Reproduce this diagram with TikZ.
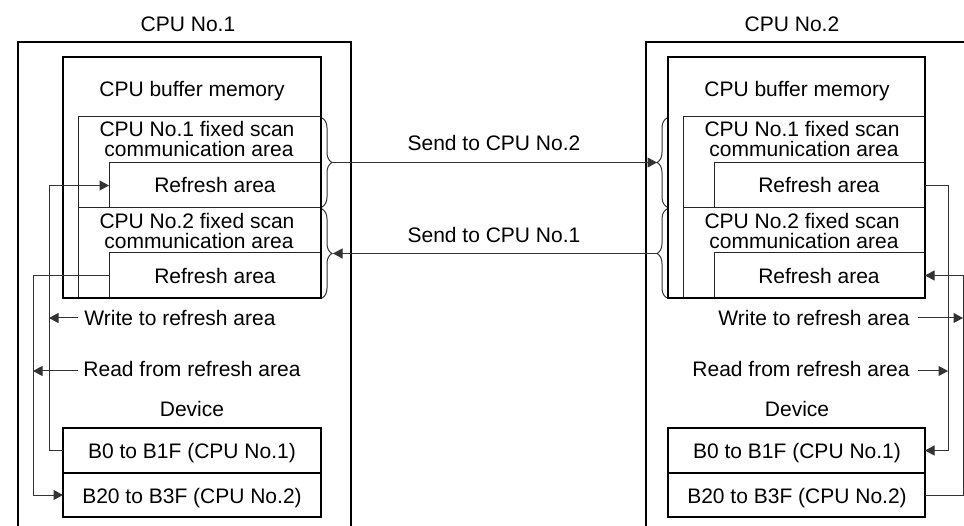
\documentclass[tikz,border=0pt]{standalone}
\usepackage{fontspec}
\setmainfont{Liberation Sans}
\usetikzlibrary{arrows.meta,decorations.pathreplacing}
\begin{document}
\begin{tikzpicture}[x=1pt,y=-1pt,
  box/.style={draw=black, line width=1.3pt, inner sep=0pt, outer sep=0pt, anchor=north west},
  sub/.style={draw=black!85, line width=1pt, inner sep=0pt, outer sep=0pt, anchor=north west},
  frame/.style={draw=black, line width=1.3pt},
  conn/.style={draw=black!80, line width=1pt},
  arr/.style={conn, -{Triangle[length=9.5pt,width=10pt]}},
  txt/.style={font=\fontsize{21}{20}\selectfont, inner sep=0pt, anchor=base},
  br/.style={draw=black!80, line width=1pt, decorate, decoration={brace, amplitude=10pt}}
]
\useasboundingbox (0,0) rectangle (964,526);

% ---------------- CPU No.1 ----------------
\draw[frame] (18,526) -- (18,42) -- (351,42) -- (351,526);
\node[txt] (titleA) at (188,32) {CPU No.1};
\node[txt] (bufAt) at (192,97) {CPU buffer memory};
\node[sub, minimum width=243pt, minimum height=91pt] (fixA1) at (78,117) {};
\node[txt] (fixA1a) at (197,137) {CPU No.1 fixed scan};
\node[txt] (fixA1b) at (199,157) {communication area};
\node[sub, minimum width=212pt, minimum height=45pt] (refA1) at (109,163) {};
\node[txt] (refA1t) at (215,193) {Refresh area};
\node[sub, minimum width=243pt, minimum height=90pt] (fixA2) at (78,208) {};
\node[txt] (fixA2a) at (197,229) {CPU No.2 fixed scan};
\node[txt] (fixA2b) at (199,249) {communication area};
\node[sub, minimum width=212pt, minimum height=45pt] (refA2) at (109,253) {};
\node[txt] (refA2t) at (215,284) {Refresh area};
\node[box, minimum width=258pt, minimum height=241pt] (bufA) at (63,57) {};

\node[txt] (wrA) at (180,326) {Write to refresh area};
\node[txt] (rdA) at (192,377) {Read from refresh area};
\node[txt] (devAt) at (192,417) {Device};
\node[box, minimum width=258pt, minimum height=45pt] (devA1) at (63,428) {};
\node[txt] (devA1t) at (192,458) {B0 to B1F (CPU No.1)};
\node[box, minimum width=258pt, minimum height=44pt] (devA2) at (63,473) {};
\node[txt] (devA2t) at (192,503) {B20 to B3F (CPU No.2)};

\draw[br] (322,118) -- (322,207);
\draw[br] (322,209) -- (322,298);
\coordinate (tipA1) at (332,162.5);
\coordinate (tipA2) at (333,253.5);

\coordinate (lineWA) at (49,318);
\coordinate (lineRA) at (33,371);
\draw[arr] (devA1.west) -- (49,0 |- devA1.west) |- (refA1.west);
\draw[arr] (refA2.west) -- (33,0 |- refA2.west) |- (devA2.west);
\draw[arr] (78,318) -- (lineWA);
\draw[arr] (78,371) -- (lineRA);

% ---------------- CPU No.2 ----------------
\draw[frame] (646,526) -- (646,42) -- (964,42);
\node[txt] (titleB) at (792,32) {CPU No.2};
\node[txt] (bufBt) at (797,97) {CPU buffer memory};
\node[sub, minimum width=242pt, minimum height=91pt] (fixB1) at (683,117) {};
\node[txt] (fixB1a) at (802,137) {CPU No.1 fixed scan};
\node[txt] (fixB1b) at (804,157) {communication area};
\node[sub, minimum width=211pt, minimum height=45pt] (refB1) at (714,163) {};
\node[txt] (refB1t) at (819,193) {Refresh area};
\node[sub, minimum width=242pt, minimum height=90pt] (fixB2) at (683,208) {};
\node[txt] (fixB2a) at (802,229) {CPU No.2 fixed scan};
\node[txt] (fixB2b) at (804,249) {communication area};
\node[sub, minimum width=211pt, minimum height=45pt] (refB2) at (714,253) {};
\node[txt] (refB2t) at (819,284) {Refresh area};
\node[box, minimum width=257pt, minimum height=241pt] (bufB) at (668,57) {};

\node[txt] (wrB) at (814,326) {Write to refresh area};
\node[txt] (rdB) at (801,377) {Read from refresh area};
\node[txt] (devBt) at (797,417) {Device};
\node[box, minimum width=257pt, minimum height=45pt] (devB1) at (668,428) {};
\node[txt] (devB1t) at (797,458) {B0 to B1F (CPU No.1)};
\node[box, minimum width=257pt, minimum height=44pt] (devB2) at (668,473) {};
\node[txt] (devB2t) at (797,503) {B20 to B3F (CPU No.2)};

\draw[br] (667,207) -- (667,118);
\draw[br] (667,298) -- (667,209);
\coordinate (tipB1) at (657,162.5);
\coordinate (tipB2) at (657,253.5);

\coordinate (lineWB) at (963,318);
\coordinate (lineRB) at (948,371);
\draw[arr] (refB1.east) -- (948,0 |- refB1.east) |- (devB1.east);
\draw[arr] (devB2.east) -- (963,0 |- devB2.east) |- (refB2.east);
\draw[arr] (918,318) -- (lineWB);
\draw[arr] (918,371) -- (lineRB);

% ---------------- transfers ----------------
\draw[arr] (tipA1) -- (tipB1);
\draw[arr] (tipB2) -- (tipA2);
\node[txt] (sendB) at (494,151) {Send to CPU No.2};
\node[txt] (sendA) at (494,243) {Send to CPU No.1};
\end{tikzpicture}
\end{document}
